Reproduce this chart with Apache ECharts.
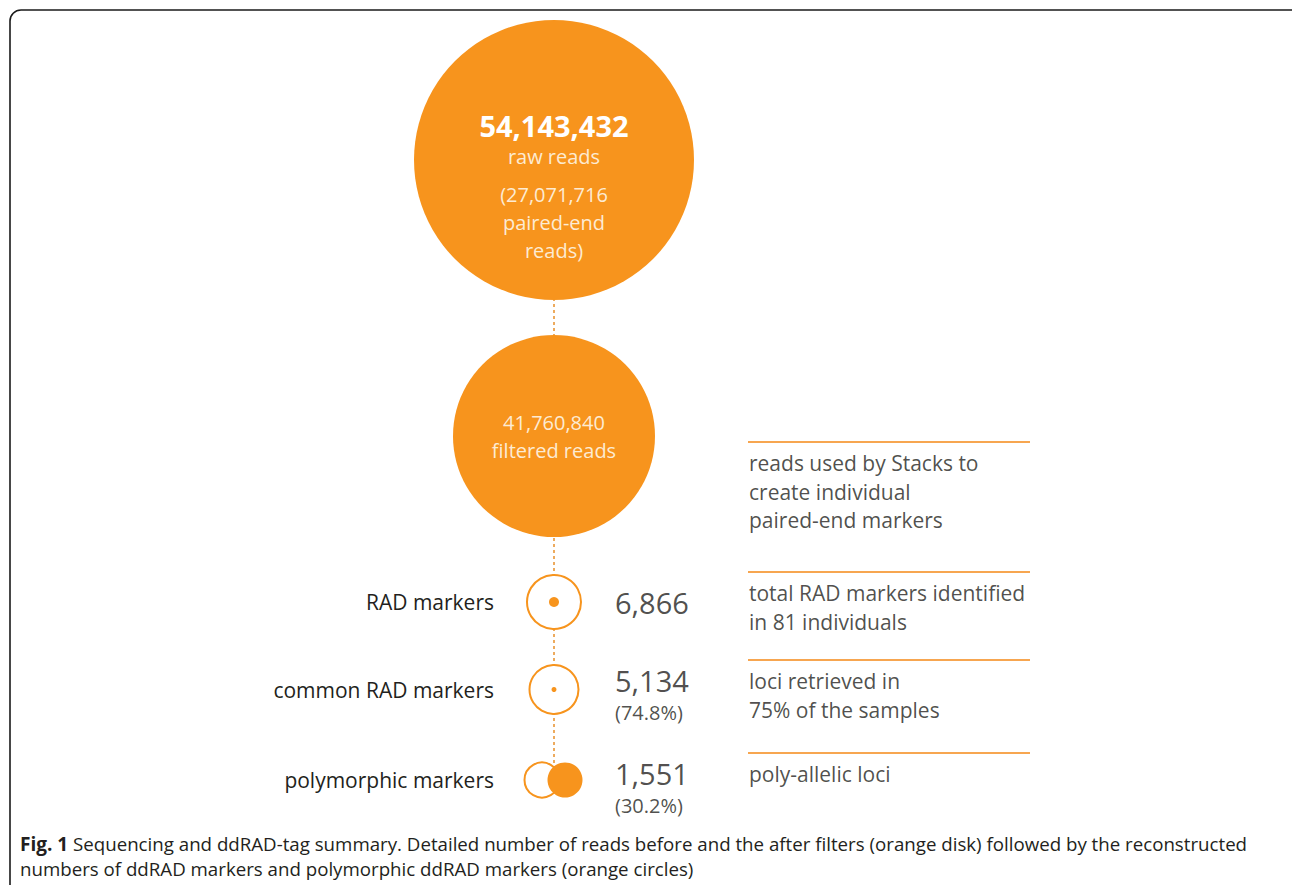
<!DOCTYPE html>
<html><head><meta charset="utf-8">
<script src="https://cdn.jsdelivr.net/npm/echarts@6/dist/echarts.min.js"></script>
<style>html,body{margin:0;padding:0;background:#fff}#c{width:1292px;height:885px}</style>
</head><body><div id="c"></div>
<script>
// ---------------- data ----------------
const stages = ['raw reads', 'filtered reads', 'RAD markers', 'common RAD markers', 'polymorphic markers'];
const counts = [54143432, 41760840, 6866, 5134, 1551];
const pairedEndReads = 27071716;
const sharePct = [null, null, null, 74.8, 30.2];
const notes = [
  'reads used by Stacks to\ncreate individual\npaired-end markers',
  'total RAD markers identified\nin 81 individuals',
  'loci retrieved in\n75% of the samples',
  'poly-allelic loci'
];
const captionBold = 'Fig. 1';
const captionLines = [
  ' Sequencing and ddRAD-tag summary. Detailed number of reads before and the after filters (orange disk) followed by the reconstructed',
  'numbers of ddRAD markers and polymorphic ddRAD markers (orange circles)'
];

// ---------------- layout / style (not data) ----------------
const FONT = '"Open Sans", sans-serif';
const ORANGE = '#F7941D';
const RULE = '#F7A650';
const INK = '#231F20';
const L = {
  colX: 554,
  stageY: [160, 436, 602, 689.5, 780],
  radius: [140, 101, 27, 24.5, 17.5],
  dotSize: [10, 5],
  polyOffset: [-12, 11],
  nameRightX: 495,
  numLeftX: 615,
  numOffsetY: [0, 0, 0, 7, 9],
  ruleX: [748, 1030],
  ruleY: [442, 572, 660, 753],
  noteX: 749,
  noteGap: 7
};
const fmt = v => v.toLocaleString('en-US');

const chart = echarts.init(document.getElementById('c'), null, {renderer: 'svg', width: 1292, height: 885});

const noEmph = {disabled: true};

// disks (raw & filtered reads)
const diskData = [0, 1].map(i => ({
  value: [L.colX, L.stageY[i]],
  symbolSize: L.radius[i] * 2,
  label: i === 0 ? {
    formatter: '{big|' + fmt(counts[0]) + '}\n{txt|' + stages[0] + '}\n{gap|}\n{txt|(' + fmt(pairedEndReads) + '}\n{txt|paired-end}\n{txt|reads)}',
    offset: [0, 26]
  } : {
    formatter: '{txt|' + fmt(counts[1]) + '}\n{txt|' + stages[1] + '}',
    offset: [0, 0]
  }
}));

// rings (RAD markers, common RAD markers)
const ringData = [2, 3].map(i => ({
  value: [L.colX, L.stageY[i]],
  symbolSize: L.radius[i] * 2,
  label: {distance: (L.colX - L.radius[i]) - L.nameRightX}
}));
const dotData = [2, 3].map((i, k) => ({value: [L.colX, L.stageY[i]], symbolSize: L.dotSize[k]}));

// polymorphic: outline + filled
const polyOutline = [{
  value: [L.colX + L.polyOffset[0], L.stageY[4]],
  symbolSize: L.radius[4] * 2,
  label: {distance: (L.colX + L.polyOffset[0] - L.radius[4]) - L.nameRightX}
}];
const polyFilled = [{value: [L.colX + L.polyOffset[1], L.stageY[4]], symbolSize: L.radius[4] * 2}];

// numbers
const numData = [2, 3, 4].map(i => ({
  value: [L.numLeftX, L.stageY[i]],
  label: {
    formatter: sharePct[i] == null ? '{num|' + fmt(counts[i]) + '}' : '{num|' + fmt(counts[i]) + '}\n{pct|(' + sharePct[i] + '%)}',
    offset: [0, L.numOffsetY[i]]
  }
}));

// rules and notes
const ruleData = L.ruleY.map(y => ({value: [(L.ruleX[0] + L.ruleX[1]) / 2, y], symbolSize: [L.ruleX[1] - L.ruleX[0], 2]}));
const noteData = L.ruleY.map((y, k) => ({value: [L.noteX, y + L.noteGap], label: {formatter: notes[k]}}));

chart.setOption({
  animation: false,
  backgroundColor: '#fff',
  title: {
    left: 15, top: 826,
    text: '{b|' + captionBold + '}{t|' + captionLines[0] + '}\n{t|' + captionLines[1] + '}',
    textStyle: {
      fontWeight: 'normal', fontFamily: FONT, fontSize: 18.7, color: INK,
      rich: {
        b: {fontFamily: FONT, fontWeight: 'bold', fontSize: 19, color: INK, lineHeight: 25},
        t: {fontFamily: FONT, fontWeight: 'normal', fontSize: 18.7, color: INK, lineHeight: 25}
      }
    }
  },
  graphic: [{
    type: 'rect', silent: true, z: 100,
    shape: {x: 10, y: 10, width: 1300, height: 895, r: 11},
    style: {fill: 'none', stroke: '#1a1a1a', lineWidth: 1.6}
  }],
  grid: {left: 0, right: 0, top: 0, bottom: 0},
  xAxis: {type: 'value', min: 0, max: 1292, show: false},
  yAxis: {type: 'value', min: 0, max: 885, inverse: true, show: false},
  series: [
    {
      type: 'line', z: 1, silent: true, symbol: 'none', emphasis: noEmph,
      data: L.stageY.map(y => [L.colX, y]),
      lineStyle: {color: '#E8902A', width: 1.5, type: [3, 3]}
    },
    {
      type: 'scatter', z: 3, silent: true, emphasis: noEmph,
      itemStyle: {color: ORANGE, opacity: 1},
      label: {
        show: true, position: 'inside', align: 'center', verticalAlign: 'middle',
        rich: {
          big: {fontFamily: FONT, fontWeight: 'bold', fontSize: 29, color: '#ffffff', lineHeight: 34, align: 'center'},
          txt: {fontFamily: FONT, fontSize: 20, color: '#FDEBD3', lineHeight: 28, align: 'center'},
          gap: {fontSize: 10, lineHeight: 10}
        }
      },
      data: diskData
    },
    {
      type: 'scatter', z: 3, silent: true, emphasis: noEmph,
      itemStyle: {color: '#fff', borderColor: ORANGE, borderWidth: 2, opacity: 1},
      label: {show: true, position: 'left', fontFamily: FONT, fontSize: 21, color: INK, formatter: p => stages[p.dataIndex + 2]},
      data: ringData
    },
    {
      type: 'scatter', z: 4, silent: true, emphasis: noEmph,
      itemStyle: {color: ORANGE, opacity: 1},
      data: dotData
    },
    {
      type: 'scatter', z: 3, silent: true, emphasis: noEmph,
      itemStyle: {color: '#fff', borderColor: ORANGE, borderWidth: 2, opacity: 1},
      label: {show: true, position: 'left', fontFamily: FONT, fontSize: 21, color: INK, formatter: () => stages[4]},
      data: polyOutline
    },
    {
      type: 'scatter', z: 4, silent: true, emphasis: noEmph,
      itemStyle: {color: ORANGE, opacity: 1},
      data: polyFilled
    },
    {
      type: 'scatter', z: 3, silent: true, emphasis: noEmph, symbolSize: 0,
      label: {
        show: true, position: 'right', distance: 0, align: 'left', verticalAlign: 'middle',
        rich: {
          num: {fontFamily: FONT, fontSize: 29, color: INK, lineHeight: 32},
          pct: {fontFamily: FONT, fontSize: 20, color: INK, lineHeight: 32}
        }
      },
      data: numData
    },
    {
      type: 'scatter', z: 2, silent: true, emphasis: noEmph, symbol: 'rect',
      itemStyle: {color: RULE, opacity: 1},
      data: ruleData
    },
    {
      type: 'scatter', z: 3, silent: true, emphasis: noEmph, symbolSize: 0,
      label: {show: true, position: 'right', distance: 0, align: 'left', verticalAlign: 'top', fontFamily: FONT, fontSize: 21, color: INK, lineHeight: 28.5},
      data: noteData
    }
  ]
});
</script>
</body></html>
